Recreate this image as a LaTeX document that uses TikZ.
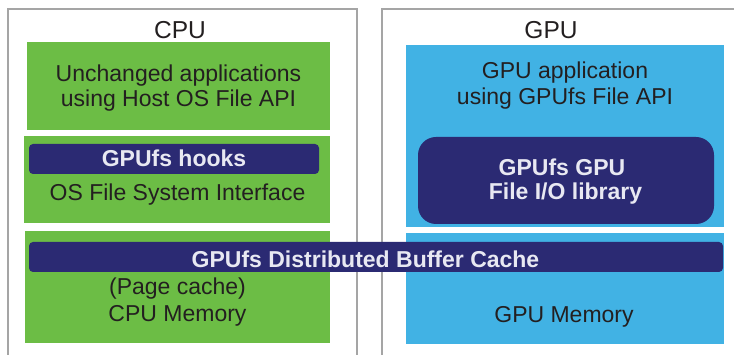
\documentclass[tikz,border=0pt]{standalone}
\usepackage{fontspec}
\setmainfont{Liberation Sans}
\definecolor{cgreen}{RGB}{108,189,69}
\definecolor{gblue}{RGB}{65,178,228}
\definecolor{navy}{RGB}{43,42,115}
\definecolor{textdark}{RGB}{35,31,32}
\definecolor{textlight}{RGB}{232,232,242}
\definecolor{framegray}{RGB}{165,165,165}
\begin{document}
\begin{tikzpicture}[x=1pt,y=-1pt,
  box/.style={inner sep=0pt,outer sep=0pt,draw=none},
  greenbox/.style={box,fill=cgreen},
  bluebox/.style={box,fill=gblue},
  navybox/.style={box,fill=navy},
  txt/.style={anchor=base,inner sep=0pt,text=textdark,font=\fontsize{23}{25}\selectfont},
  ttxt/.style={anchor=base,inner sep=0pt,text=textdark,font=\fontsize{24.5}{26}\selectfont},
  btxt/.style={anchor=base,inner sep=0pt,text=textlight,font=\fontsize{23}{25}\selectfont\bfseries},
  frame/.style={draw=framegray,line width=1.5pt}]
\useasboundingbox (0,0) rectangle (734,355);
\fill[white] (0,0) rectangle (734,355);
% outer frames
\draw[frame] (8,356) -- (8,9) -- (357,9) -- (357,356);
\draw[frame] (382,356) -- (382,9) -- (735,9);
% titles
\node[ttxt] (cputitle) at (180,39) {CPU};
\node[ttxt] (gputitle) at (551,39) {GPU};
% CPU side
\node[greenbox,minimum width=303pt,minimum height=88pt] (capp) at (178.5,86) {};
\node[txt] (capp1) at (178.5,82) {Unchanged applications};
\node[txt] (capp2) at (178.5,107) {using Host OS File API};
\node[greenbox,minimum width=306pt,minimum height=87pt] (cfs) at (177,179.5) {};
\node[navybox,rounded corners=4pt,minimum width=290pt,minimum height=30pt] (hooks) at (174,159) {};
\node[btxt] (hookst) at (174,166.5) {GPUfs hooks};
\node[txt] (cfst) at (177.5,201) {OS File System Interface};
\node[greenbox,minimum width=305pt,minimum height=112pt] (cmem) at (177.5,287) {};
% GPU side
\node[bluebox,minimum width=318pt,minimum height=182pt] (gapp) at (565,136) {};
\node[txt] (gapp1) at (565,79) {GPU application};
\node[txt] (gapp2) at (565,104.3) {using GPUfs File API};
\node[navybox,rounded corners=18pt,minimum width=296pt,minimum height=87pt] (glib) at (566,180.5) {};
\node[btxt] (glib1) at (562,175.5) {GPUfs GPU};
\node[btxt] (glib2) at (565.5,200) {File I/O library};
\node[bluebox,minimum width=318pt,minimum height=111pt] (gmem) at (565,288.5) {};
\node[txt] (gmemt) at (564,322.5) {GPU Memory};
% distributed buffer cache bar
\node[navybox,rounded corners=4pt,minimum width=694pt,minimum height=30pt] (dbc) at (376,257) {};
\node[btxt] (dbct) at (365.5,267.5) {GPUfs Distributed Buffer Cache};
\node[txt] (cmem1) at (177.5,295) {(Page cache)};
\node[txt] (cmem2) at (177.5,321.5) {CPU Memory};
\end{tikzpicture}
\end{document}
